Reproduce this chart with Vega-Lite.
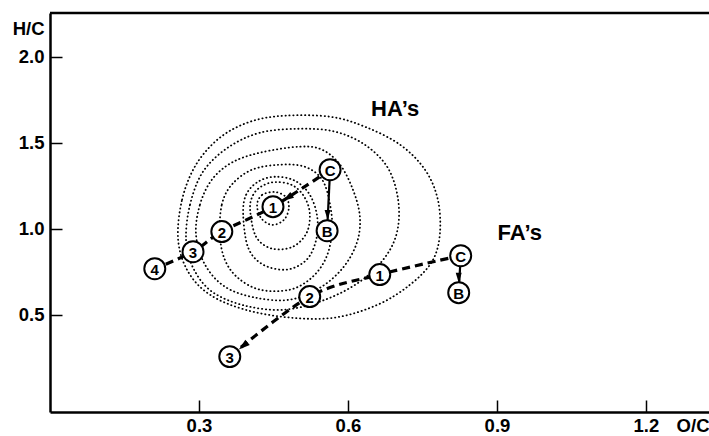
{
  "$schema": "https://vega.github.io/schema/vega-lite/v6.json",
  "width": 659,
  "height": 399,
  "autosize": {"type": "none"},
  "padding": {"left": 50, "top": 13, "right": 0, "bottom": 24},
  "background": "white",
  "config": {
    "view": {"stroke": null},
    "axis": {
      "grid": false,
      "domainColor": "black",
      "domainWidth": 2.5,
      "tickColor": "black",
      "tickWidth": 1.5,
      "tickSize": -12,
      "labelColor": "black",
      "labelFont": "Liberation Sans",
      "labelFontWeight": "bold",
      "labelFontSize": 18.5,
      "titleColor": "black",
      "titleFont": "Liberation Sans",
      "titleFontWeight": "bold",
      "titleFontSize": 18.5
    }
  },
  "datasets": {
    "contours": [
      {"c": 1, "i": 0, "x": 0.258, "y": 0.936},
      {"c": 1, "i": 1, "x": 0.266, "y": 1.169},
      {"c": 1, "i": 2, "x": 0.294, "y": 1.372},
      {"c": 1, "i": 3, "x": 0.342, "y": 1.529},
      {"c": 1, "i": 4, "x": 0.403, "y": 1.622},
      {"c": 1, "i": 5, "x": 0.473, "y": 1.657},
      {"c": 1, "i": 6, "x": 0.564, "y": 1.651},
      {"c": 1, "i": 7, "x": 0.634, "y": 1.593},
      {"c": 1, "i": 8, "x": 0.705, "y": 1.488},
      {"c": 1, "i": 9, "x": 0.755, "y": 1.343},
      {"c": 1, "i": 10, "x": 0.781, "y": 1.169},
      {"c": 1, "i": 11, "x": 0.785, "y": 0.965},
      {"c": 1, "i": 12, "x": 0.769, "y": 0.808},
      {"c": 1, "i": 13, "x": 0.725, "y": 0.674},
      {"c": 1, "i": 14, "x": 0.660, "y": 0.558},
      {"c": 1, "i": 15, "x": 0.574, "y": 0.483},
      {"c": 1, "i": 16, "x": 0.483, "y": 0.483},
      {"c": 1, "i": 17, "x": 0.393, "y": 0.529},
      {"c": 1, "i": 18, "x": 0.322, "y": 0.616},
      {"c": 1, "i": 19, "x": 0.278, "y": 0.750},
      {"c": 2, "i": 0, "x": 0.274, "y": 0.936},
      {"c": 2, "i": 1, "x": 0.282, "y": 1.140},
      {"c": 2, "i": 2, "x": 0.308, "y": 1.331},
      {"c": 2, "i": 3, "x": 0.358, "y": 1.471},
      {"c": 2, "i": 4, "x": 0.423, "y": 1.558},
      {"c": 2, "i": 5, "x": 0.503, "y": 1.581},
      {"c": 2, "i": 6, "x": 0.574, "y": 1.564},
      {"c": 2, "i": 7, "x": 0.634, "y": 1.488},
      {"c": 2, "i": 8, "x": 0.680, "y": 1.355},
      {"c": 2, "i": 9, "x": 0.701, "y": 1.169},
      {"c": 2, "i": 10, "x": 0.699, "y": 0.983},
      {"c": 2, "i": 11, "x": 0.674, "y": 0.831},
      {"c": 2, "i": 12, "x": 0.624, "y": 0.692},
      {"c": 2, "i": 13, "x": 0.554, "y": 0.587},
      {"c": 2, "i": 14, "x": 0.473, "y": 0.529},
      {"c": 2, "i": 15, "x": 0.393, "y": 0.552},
      {"c": 2, "i": 16, "x": 0.326, "y": 0.634},
      {"c": 2, "i": 17, "x": 0.288, "y": 0.773},
      {"c": 3, "i": 0, "x": 0.294, "y": 0.965},
      {"c": 3, "i": 1, "x": 0.302, "y": 1.140},
      {"c": 3, "i": 2, "x": 0.326, "y": 1.285},
      {"c": 3, "i": 3, "x": 0.366, "y": 1.384},
      {"c": 3, "i": 4, "x": 0.423, "y": 1.442},
      {"c": 3, "i": 5, "x": 0.503, "y": 1.477},
      {"c": 3, "i": 6, "x": 0.548, "y": 1.459},
      {"c": 3, "i": 7, "x": 0.584, "y": 1.372},
      {"c": 3, "i": 8, "x": 0.610, "y": 1.227},
      {"c": 3, "i": 9, "x": 0.624, "y": 1.070},
      {"c": 3, "i": 10, "x": 0.618, "y": 0.919},
      {"c": 3, "i": 11, "x": 0.590, "y": 0.773},
      {"c": 3, "i": 12, "x": 0.544, "y": 0.657},
      {"c": 3, "i": 13, "x": 0.483, "y": 0.587},
      {"c": 3, "i": 14, "x": 0.413, "y": 0.599},
      {"c": 3, "i": 15, "x": 0.352, "y": 0.663},
      {"c": 3, "i": 16, "x": 0.312, "y": 0.791},
      {"c": 4, "i": 0, "x": 0.342, "y": 0.965},
      {"c": 4, "i": 1, "x": 0.346, "y": 1.140},
      {"c": 4, "i": 2, "x": 0.366, "y": 1.256},
      {"c": 4, "i": 3, "x": 0.407, "y": 1.343},
      {"c": 4, "i": 4, "x": 0.463, "y": 1.372},
      {"c": 4, "i": 5, "x": 0.513, "y": 1.360},
      {"c": 4, "i": 6, "x": 0.548, "y": 1.285},
      {"c": 4, "i": 7, "x": 0.564, "y": 1.140},
      {"c": 4, "i": 8, "x": 0.568, "y": 0.983},
      {"c": 4, "i": 9, "x": 0.556, "y": 0.831},
      {"c": 4, "i": 10, "x": 0.527, "y": 0.715},
      {"c": 4, "i": 11, "x": 0.483, "y": 0.645},
      {"c": 4, "i": 12, "x": 0.423, "y": 0.645},
      {"c": 4, "i": 13, "x": 0.378, "y": 0.715},
      {"c": 4, "i": 14, "x": 0.352, "y": 0.820},
      {"c": 5, "i": 0, "x": 0.389, "y": 1.081},
      {"c": 5, "i": 1, "x": 0.395, "y": 1.198},
      {"c": 5, "i": 2, "x": 0.419, "y": 1.273},
      {"c": 5, "i": 3, "x": 0.453, "y": 1.302},
      {"c": 5, "i": 4, "x": 0.493, "y": 1.279},
      {"c": 5, "i": 5, "x": 0.523, "y": 1.198},
      {"c": 5, "i": 6, "x": 0.538, "y": 1.070},
      {"c": 5, "i": 7, "x": 0.536, "y": 0.936},
      {"c": 5, "i": 8, "x": 0.517, "y": 0.820},
      {"c": 5, "i": 9, "x": 0.477, "y": 0.762},
      {"c": 5, "i": 10, "x": 0.429, "y": 0.791},
      {"c": 5, "i": 11, "x": 0.399, "y": 0.890},
      {"c": 6, "i": 0, "x": 0.403, "y": 1.110},
      {"c": 6, "i": 1, "x": 0.409, "y": 1.196},
      {"c": 6, "i": 2, "x": 0.427, "y": 1.248},
      {"c": 6, "i": 3, "x": 0.453, "y": 1.271},
      {"c": 6, "i": 4, "x": 0.487, "y": 1.254},
      {"c": 6, "i": 5, "x": 0.511, "y": 1.190},
      {"c": 6, "i": 6, "x": 0.523, "y": 1.093},
      {"c": 6, "i": 7, "x": 0.517, "y": 0.977},
      {"c": 6, "i": 8, "x": 0.489, "y": 0.895},
      {"c": 6, "i": 9, "x": 0.447, "y": 0.884},
      {"c": 6, "i": 10, "x": 0.415, "y": 0.953},
      {"c": 7, "i": 0, "x": 0.417, "y": 1.138},
      {"c": 7, "i": 1, "x": 0.427, "y": 1.196},
      {"c": 7, "i": 2, "x": 0.453, "y": 1.213},
      {"c": 7, "i": 3, "x": 0.475, "y": 1.184},
      {"c": 7, "i": 4, "x": 0.481, "y": 1.120},
      {"c": 7, "i": 5, "x": 0.471, "y": 1.051},
      {"c": 7, "i": 6, "x": 0.447, "y": 1.022},
      {"c": 7, "i": 7, "x": 0.425, "y": 1.062}
    ],
    "points": [
      {"group": "HA", "label": "C", "step": 0, "x": 0.564, "y": 1.343},
      {"group": "HA", "label": "1", "step": 1, "x": 0.449, "y": 1.128},
      {"group": "HA", "label": "2", "step": 2, "x": 0.346, "y": 0.983},
      {"group": "HA", "label": "3", "step": 3, "x": 0.288, "y": 0.866},
      {"group": "HA", "label": "4", "step": 4, "x": 0.211, "y": 0.767},
      {"group": "HA", "label": "B", "step": 9, "x": 0.558, "y": 0.988},
      {"group": "FA", "label": "C", "step": 0, "x": 0.827, "y": 0.843},
      {"group": "FA", "label": "1", "step": 1, "x": 0.664, "y": 0.733},
      {"group": "FA", "label": "2", "step": 2, "x": 0.523, "y": 0.605},
      {"group": "FA", "label": "3", "step": 3, "x": 0.362, "y": 0.256},
      {"group": "FA", "label": "B", "step": 9, "x": 0.823, "y": 0.628}
    ],
    "arrows": [
      {"arrow": "HA1", "x": 0.478, "y": 1.179},
      {"arrow": "HAB", "x": 0.559, "y": 1.080},
      {"arrow": "FA3", "x": 0.389, "y": 0.318},
      {"arrow": "FAB", "x": 0.823, "y": 0.715}
    ],
    "names": [
      {"name": "HA’s", "x": 0.695, "y": 1.696},
      {"name": "FA’s", "x": 0.946, "y": 0.975}
    ],
    "frame": [
      {"x0": 0, "x1": 1.327, "top": 2.254}
    ]
  },
  "layer": [
    {
      "data": {"name": "contours"},
      "mark": {"type": "line", "interpolate": "cardinal-closed", "strokeDash": [0.3, 3.6], "strokeCap": "round", "strokeWidth": 1.8, "color": "black"},
      "encoding": {
        "x": {
          "field": "x", "type": "quantitative",
          "scale": {"domain": [0, 1.327], "nice": false, "zero": false},
          "axis": {
            "values": [0.3, 0.6, 0.9, 1.2], "format": ".1f",
            "labelPadding": 31, "labelBaseline": "alphabetic",
            "title": "O/C", "titleX": 659, "titleY": 19, "titleAlign": "right",
            "titleAnchor": null, "titleBaseline": "alphabetic"
          }
        },
        "y": {
          "field": "y", "type": "quantitative",
          "scale": {"domain": [-0.066, 2.254], "nice": false, "zero": false},
          "axis": {
            "values": [0.5, 1.0, 1.5, 2.0], "format": ".1f",
            "labelPadding": 18,
            "title": "H/C", "titleAngle": 0, "titleX": -6, "titleY": 21,
            "titleAlign": "right", "titleAnchor": null, "titleBaseline": "alphabetic"
          }
        },
        "detail": {"field": "c"},
        "order": {"field": "i"}
      }
    },
    {
      "data": {"name": "points"},
      "transform": [{"filter": "datum.label != 'B'"}],
      "mark": {"type": "line", "interpolate": "cardinal", "strokeDash": [8, 5], "strokeWidth": 3.2, "color": "black"},
      "encoding": {
        "x": {"field": "x", "type": "quantitative"},
        "y": {"field": "y", "type": "quantitative"},
        "detail": {"field": "group"},
        "order": {"field": "step"}
      }
    },
    {
      "data": {"name": "points"},
      "transform": [{"filter": "datum.label == 'B' || datum.label == 'C'"}],
      "mark": {"type": "line", "strokeWidth": 2.2, "color": "black"},
      "encoding": {
        "x": {"field": "x", "type": "quantitative"},
        "y": {"field": "y", "type": "quantitative"},
        "detail": {"field": "group"},
        "order": {"field": "step"}
      }
    },
    {
      "data": {"name": "arrows"},
      "transform": [{"filter": "datum.arrow == 'HAB' || datum.arrow == 'FAB'"}],
      "mark": {"type": "point", "shape": "M0,-1L0.6,1L-0.6,1Z", "filled": true, "color": "black", "opacity": 1, "size": 100, "angle": 180},
      "encoding": {
        "x": {"field": "x", "type": "quantitative"},
        "y": {"field": "y", "type": "quantitative"}
      }
    },
    {
      "data": {"name": "arrows"},
      "transform": [{"filter": "datum.arrow == 'HA1'"}],
      "mark": {"type": "point", "shape": "M0,-1L0.6,1L-0.6,1Z", "filled": true, "color": "black", "opacity": 1, "size": 130, "angle": 237},
      "encoding": {
        "x": {"field": "x", "type": "quantitative"},
        "y": {"field": "y", "type": "quantitative"}
      }
    },
    {
      "data": {"name": "arrows"},
      "transform": [{"filter": "datum.arrow == 'FA3'"}],
      "mark": {"type": "point", "shape": "M0,-1L0.6,1L-0.6,1Z", "filled": true, "color": "black", "opacity": 1, "size": 130, "angle": 230},
      "encoding": {
        "x": {"field": "x", "type": "quantitative"},
        "y": {"field": "y", "type": "quantitative"}
      }
    },
    {
      "data": {"name": "points"},
      "mark": {"type": "point", "shape": "circle", "filled": true, "fill": "white", "stroke": "black", "strokeWidth": 2, "opacity": 1, "size": 440},
      "encoding": {
        "x": {"field": "x", "type": "quantitative"},
        "y": {"field": "y", "type": "quantitative"}
      }
    },
    {
      "data": {"name": "points"},
      "mark": {"type": "text", "font": "Liberation Sans", "fontWeight": "bold", "fontSize": 15, "color": "black", "baseline": "middle", "align": "center", "dy": 1},
      "encoding": {
        "x": {"field": "x", "type": "quantitative"},
        "y": {"field": "y", "type": "quantitative"},
        "text": {"field": "label"}
      }
    },
    {
      "data": {"name": "names"},
      "mark": {"type": "text", "font": "Liberation Sans", "fontWeight": "bold", "fontSize": 22, "color": "black", "baseline": "middle", "align": "center"},
      "encoding": {
        "x": {"field": "x", "type": "quantitative"},
        "y": {"field": "y", "type": "quantitative"},
        "text": {"field": "name"}
      }
    },
    {
      "data": {"name": "frame"},
      "mark": {"type": "rule", "strokeWidth": 2.5, "color": "black"},
      "encoding": {
        "x": {"field": "x0", "type": "quantitative"},
        "x2": {"field": "x1"},
        "y": {"field": "top", "type": "quantitative"}
      }
    }
  ]
}
